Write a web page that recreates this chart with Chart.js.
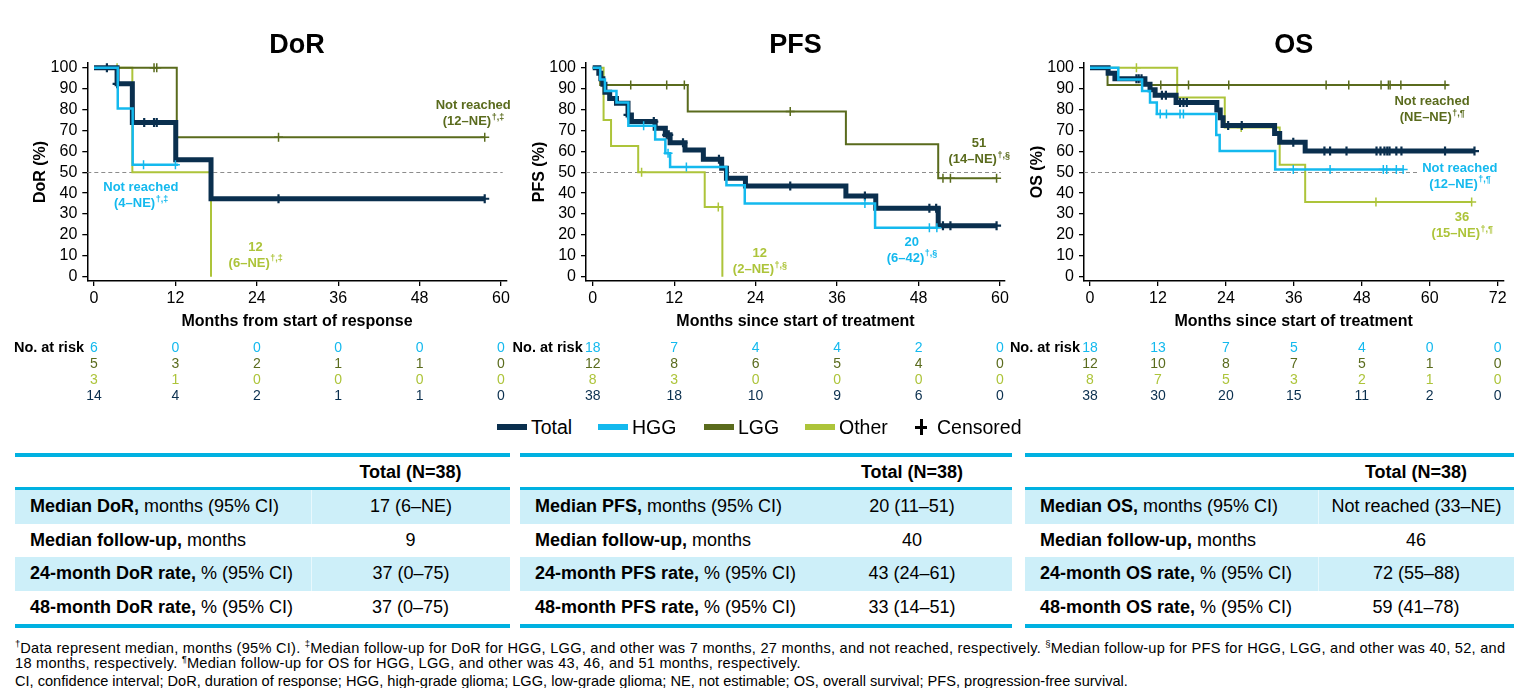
<!DOCTYPE html>
<html><head><meta charset="utf-8">
<script src="https://cdn.jsdelivr.net/npm/chart.js@4.4.1/dist/chart.umd.min.js"></script>
<style>
html,body{margin:0;padding:0;background:#fff}
body{width:1523px;height:688px;position:relative;overflow:hidden;font-family:"Liberation Sans",Arial,sans-serif;color:#000}
canvas{position:absolute;top:0}
.lg{position:absolute;top:416px;height:22px;display:flex;align-items:center;font-size:19.5px;white-space:nowrap}
.lg .sw{width:30px;height:6px;margin-right:4px}
.plus{position:relative;width:16px;height:16px;margin-right:8px}
.plus:before{content:"";position:absolute;left:6.5px;top:0;width:3px;height:16px;background:#000}
.plus:after{content:"";position:absolute;left:2px;top:6.5px;width:12px;height:3px;background:#000}
.tbl{position:absolute;top:453px;border-top:4px solid #00b1e1;border-bottom:4px solid #00b1e1;font-size:18px}
.tbl .r{display:grid;height:33.6px;align-items:stretch}
.tbl .h{height:30px;border-bottom:3px solid #00b1e1;font-weight:bold}
.tbl .s{background:#cdeff9}
.tbl .l{padding-left:15px;white-space:nowrap;display:flex;align-items:center}
.tbl .v{display:flex;align-items:center;justify-content:center;white-space:nowrap}
.tbl .s .v{border-left:1px solid #e8f8fd}
.fn{position:absolute;left:15px;font-size:14.6px;white-space:nowrap;line-height:16px}
.fn.w{letter-spacing:0.26px}
.fn sup{font-size:9.5px;vertical-align:top;line-height:9px;position:relative;top:-1px;letter-spacing:0}
</style></head><body>
<canvas id="cDoR" width="520" height="410" style="left:0px"></canvas>
<canvas id="cPFS" width="510" height="410" style="left:510px"></canvas>
<canvas id="cOS" width="515" height="410" style="left:1008px"></canvas>

<div class="lg" style="left:497px"><div class="sw" style="background:#0a2f4e"></div>Total</div>
<div class="lg" style="left:598px"><div class="sw" style="background:#14b9ee"></div>HGG</div>
<div class="lg" style="left:704px"><div class="sw" style="background:#5a6b1d"></div>LGG</div>
<div class="lg" style="left:805px"><div class="sw" style="background:#adc43a"></div>Other</div>
<div class="lg" style="left:913px"><div class="plus"></div>Censored</div>

<div class="tbl" style="left:15px;width:495px">
 <div class="r h" style="grid-template-columns:296px 199px"><div></div><div class="v">Total (N=38)</div></div>
 <div class="r s" style="grid-template-columns:296px 199px"><div class="l"><b>Median DoR,</b>&nbsp;months (95% CI)</div><div class="v">17 (6–NE)</div></div>
 <div class="r" style="grid-template-columns:296px 199px"><div class="l"><b>Median follow-up,</b>&nbsp;months</div><div class="v">9</div></div>
 <div class="r s" style="grid-template-columns:296px 199px"><div class="l"><b>24-month DoR rate,</b>&nbsp;% (95% CI)</div><div class="v">37 (0–75)</div></div>
 <div class="r" style="grid-template-columns:296px 199px"><div class="l"><b>48-month DoR rate,</b>&nbsp;% (95% CI)</div><div class="v">37 (0–75)</div></div>
</div>
<div class="tbl" style="left:520px;width:492px">
 <div class="r h" style="grid-template-columns:292px 200px"><div></div><div class="v">Total (N=38)</div></div>
 <div class="r s" style="grid-template-columns:292px 200px"><div class="l"><b>Median PFS,</b>&nbsp;months (95% CI)</div><div class="v" style="border-left:none">20 (11–51)</div></div>
 <div class="r" style="grid-template-columns:292px 200px"><div class="l"><b>Median follow-up,</b>&nbsp;months</div><div class="v">40</div></div>
 <div class="r s" style="grid-template-columns:292px 200px"><div class="l"><b>24-month PFS rate,</b>&nbsp;% (95% CI)</div><div class="v" style="border-left:none">43 (24–61)</div></div>
 <div class="r" style="grid-template-columns:292px 200px"><div class="l"><b>48-month PFS rate,</b>&nbsp;% (95% CI)</div><div class="v">33 (14–51)</div></div>
</div>
<div class="tbl" style="left:1025px;width:489px">
 <div class="r h" style="grid-template-columns:293px 196px"><div></div><div class="v">Total (N=38)</div></div>
 <div class="r s" style="grid-template-columns:293px 196px"><div class="l"><b>Median OS,</b>&nbsp;months (95% CI)</div><div class="v">Not reached (33–NE)</div></div>
 <div class="r" style="grid-template-columns:293px 196px"><div class="l"><b>Median follow-up,</b>&nbsp;months</div><div class="v">46</div></div>
 <div class="r s" style="grid-template-columns:293px 196px"><div class="l"><b>24-month OS rate,</b>&nbsp;% (95% CI)</div><div class="v">72 (55–88)</div></div>
 <div class="r" style="grid-template-columns:293px 196px"><div class="l"><b>48-month OS rate,</b>&nbsp;% (95% CI)</div><div class="v">59 (41–78)</div></div>
</div>

<div class="fn w" style="top:640px"><sup>†</sup>Data represent median, months (95% CI). <sup>‡</sup>Median follow-up for DoR for HGG, LGG, and other was 7 months, 27 months, and not reached, respectively. <sup>§</sup>Median follow-up for PFS for HGG, LGG, and other was 40, 52, and</div>
<div class="fn w" style="top:655px">18 months, respectively. <sup>¶</sup>Median follow-up for OS for HGG, LGG, and other was 43, 46, and 51 months, respectively.</div>
<div class="fn" style="top:673px">CI, confidence interval; DoR, duration of response; HGG, high-grade glioma; LGG, low-grade glioma; NE, not estimable; OS, overall survival; PFS, progression-free survival.</div>

<script>
// ---------- colours ----------
const C_TOTAL = '#0a2f4e', C_HGG = '#14b9ee', C_LGG = '#5a6b1d', C_OTHER = '#adc43a';

// ---------- ticks ----------
const yTicks = [0, 10, 20, 30, 40, 50, 60, 70, 80, 90, 100];
const xTicks60 = [0, 12, 24, 36, 48, 60];
const xTicks72 = [0, 12, 24, 36, 48, 60, 72];

// ---------- DoR (months from start of response) ----------
const dorTotalT = [0, 3.4, 5.65, 12.05, 17.25, 57.6];
const dorTotalS = [100, 92.3, 73.8, 56.0, 37.3, 37.3];
const dorTotalCens = [1.9, 3.4, 7.4, 8.85, 9.25, 27.2, 57.6];
const dorHggT = [0, 3.5, 5.7, 12.4];
const dorHggS = [100, 80.5, 53.6, 53.6];
const dorHggCens = [7.3, 12.0];
const dorLggT = [0, 12.2, 57.6];
const dorLggS = [100, 66.7, 66.7];
const dorLggCens = [8.85, 9.25, 27.2, 57.6];
const dorOtherT = [0, 5.65, 17.25];
const dorOtherS = [100, 50, 0];
const dorOtherCens = [3.4];
const dorRiskHgg = [6, 0, 0, 0, 0, 0];
const dorRiskLgg = [5, 3, 2, 1, 1, 0];
const dorRiskOther = [3, 1, 0, 0, 0, 0];
const dorRiskTotal = [14, 4, 2, 1, 1, 0];

// ---------- PFS (months since start of treatment) ----------
const pfsTotalT = [0, 0.9, 1.2, 1.5, 1.8, 2.5, 3.5, 5.2, 5.7, 9.2, 10.7, 11.4, 13.6, 16.3, 19.0, 19.7, 22.5, 37.3, 41.7, 50.9, 59.5];
const pfsTotalS = [100, 97.4, 94.7, 92.1, 88.2, 85.3, 83.0, 77.4, 74.2, 71.0, 67.9, 64.1, 60.6, 56.2, 51.9, 47.1, 43.4, 38.6, 32.7, 24.4, 24.4];
const pfsTotalCens = [5.2, 9.0, 10.9, 11.2, 13.3, 18.6, 29.1, 40.1, 49.6, 50.6, 51.6, 52.7, 59.5];
const pfsHggT = [0, 1.1, 1.8, 3.5, 5.25, 9.2, 10.7, 11.4, 19.7, 22.4, 41.6, 50.9];
const pfsHggS = [100, 94.4, 88.9, 83.3, 72.2, 65.7, 59.1, 52.5, 43.8, 35.0, 23.4, 23.4];
const pfsHggCens = [7.5, 11.1, 13.8, 40.1, 49.6, 50.7];
const pfsLggT = [0, 1.1, 14.0, 37.3, 50.9, 59.5];
const pfsLggS = [100, 91.7, 79.0, 63.4, 47.1, 47.1];
const pfsLggCens = [5.6, 10.9, 13.5, 29.1, 51.6, 52.7, 59.5];
const pfsOtherT = [0, 1.6, 2.7, 6.7, 16.5, 19.1];
const pfsOtherS = [100, 75.0, 62.5, 50.0, 33.3, 0];
const pfsOtherCens = [7.2, 18.5];
const pfsRiskHgg = [18, 7, 4, 4, 2, 0];
const pfsRiskLgg = [12, 8, 6, 5, 4, 0];
const pfsRiskOther = [8, 3, 0, 0, 0, 0];
const pfsRiskTotal = [38, 18, 10, 9, 6, 0];

// ---------- OS (months since start of treatment) ----------
const osTotalT = [0, 3.2, 4.4, 9.7, 10.6, 11.5, 15.2, 22.4, 23.0, 23.5, 32.6, 33.5, 38.0, 67.9];
const osTotalS = [100, 97.4, 94.7, 92.1, 89.5, 86.8, 83.4, 79.8, 76.0, 72.4, 68.5, 64.3, 60.1, 60.1];
const osTotalCens = [8.2, 8.6, 9.1, 12.7, 13.4, 15.9, 16.5, 17.1, 24.4, 26.8, 35.9, 41.4, 42.4, 45.3, 50.6, 51.3, 52.0, 52.5, 52.9, 54.1, 55.0, 62.7, 67.9];
const osHggT = [0, 5.0, 9.2, 10.6, 11.8, 22.3, 22.9, 32.7, 55.3];
const osHggS = [100, 94.4, 88.9, 83.3, 77.8, 67.8, 60.2, 51.3, 51.3];
const osHggCens = [12.4, 13.5, 15.9, 16.5, 35.9, 42.4, 51.8, 52.4, 54.1, 55.3];
const osLggT = [0, 3.1, 63.3];
const osLggS = [100, 91.7, 91.7];
const osLggCens = [12.5, 17.4, 24.5, 41.7, 45.7, 51.4, 52.7, 53.0, 54.9, 62.7];
const osOtherT = [0, 15.4, 23.8, 33.5, 38.0, 67.4];
const osOtherS = [100, 85.7, 71.4, 53.6, 35.7, 35.7];
const osOtherCens = [8.2, 26.7, 50.5, 67.4];
const osRiskHgg = [18, 13, 7, 5, 4, 0, 0];
const osRiskLgg = [12, 10, 8, 7, 5, 1, 0];
const osRiskOther = [8, 7, 5, 3, 2, 1, 0];
const osRiskTotal = [38, 30, 20, 15, 11, 2, 0];

// ---------- helpers ----------
const FONT = "'Liberation Sans', Arial, sans-serif";
Chart.defaults.font.family = FONT;
Chart.defaults.color = '#000';

function stepAt(T, S, t) {
  let v = S[0];
  for (let i = 0; i < T.length; i++) if (T[i] <= t) v = S[i];
  return v;
}

function kmSets(T, S, cens, color, width, crossW, order) {
  return [
    { data: T.map((t, i) => ({ x: t, y: S[i] })), borderColor: color, borderWidth: width,
      stepped: 'before', pointRadius: 0, fill: false, order: order,
      borderJoinStyle: 'miter', borderCapStyle: 'butt' },
    { data: cens.map(t => ({ x: t, y: stepAt(T, S, t) })), showLine: false, order: order,
      pointStyle: 'cross', pointRadius: 4.5, pointBorderColor: color, pointBackgroundColor: color,
      pointBorderWidth: crossW, borderColor: color }
  ];
}

function kmPlugin(p) {
  return {
    id: 'km' + p.name,
    beforeDatasetsDraw(chart) {
      const { ctx, chartArea: a, scales: { y } } = chart;
      const yy = Math.round(y.getPixelForValue(50)) + 0.5;
      ctx.save();
      ctx.strokeStyle = '#8c8c8c'; ctx.lineWidth = 1; ctx.setLineDash([4, 3]);
      ctx.beginPath(); ctx.moveTo(a.left, yy); ctx.lineTo(a.right - 4, yy); ctx.stroke();
      ctx.restore();
    },
    afterDraw(chart) {
      const { ctx, chartArea: a, scales: { x, y } } = chart;
      ctx.save();
      // panel title
      ctx.fillStyle = '#000'; ctx.font = 'bold 27px ' + FONT;
      ctx.textAlign = 'center'; ctx.textBaseline = 'middle';
      ctx.fillText(p.name, (a.left + a.right) / 2, 46);
      // number at risk
      const x0 = x.getPixelForValue(p.xTicks[0]);
      ctx.font = 'bold 14.5px ' + FONT; ctx.textAlign = 'right';
      ctx.fillText('No. at risk', x0 - 10, a.bottom + 67);
      ctx.font = '14px ' + FONT; ctx.textAlign = 'center';
      p.risk.forEach((r, i) => {
        ctx.fillStyle = r.color;
        r.vals.forEach((v, j) => ctx.fillText(String(v), x.getPixelForValue(p.xTicks[j]), a.bottom + 67 + 16 * i));
      });
      // median annotations
      p.notes.forEach(n => {
        const cx = x.getPixelForValue(n.x), cy = y.getPixelForValue(n.y);
        ctx.font = 'bold 13px ' + FONT;
        const w1 = ctx.measureText(n.l1).width, w2 = ctx.measureText(n.l2).width;
        ctx.font = 'bold 9px ' + FONT;
        const ws = ctx.measureText(n.sup).width;
        if (n.bg) { ctx.fillStyle = '#fff'; ctx.fillRect(cx - Math.max(w1, w2 + ws) / 2 - 3, cy - 16, Math.max(w1, w2 + ws) + 6, 32); }
        ctx.fillStyle = n.c; ctx.textBaseline = 'middle';
        ctx.font = 'bold 13px ' + FONT; ctx.textAlign = 'center';
        ctx.fillText(n.l1, cx, cy - 8);
        const sx = cx - (w2 + ws) / 2;
        ctx.textAlign = 'left';
        ctx.fillText(n.l2, sx, cy + 8);
        ctx.font = 'bold 9px ' + FONT;
        ctx.fillText(n.sup, sx + w2 + 0.5, cy + 4);
      });
      ctx.restore();
    }
  };
}

function buildChart(id, p) {
  const ds = [].concat(
    kmSets(p.other.T, p.other.S, p.other.C, C_OTHER, 2, 1.5, 4),
    kmSets(p.lgg.T, p.lgg.S, p.lgg.C, C_LGG, 2, 1.5, 3),
    kmSets(p.total.T, p.total.S, p.total.C, C_TOTAL, 5, 2.2, 2),
    kmSets(p.hgg.T, p.hgg.S, p.hgg.C, C_HGG, 2.5, 1.5, 1)
  );
  const grid = { display: true, drawOnChartArea: false, drawTicks: true, tickLength: 5, color: '#000', lineWidth: 1.3 };
  const border = { display: true, color: '#000', width: 1.5 };
  new Chart(document.getElementById(id), {
    type: 'line',
    data: { datasets: ds },
    options: {
      responsive: false, animation: false, events: [],
      layout: { padding: { left: 0, top: 63, right: p.padRight, bottom: 79 } },
      plugins: { legend: { display: false }, tooltip: { enabled: false } },
      scales: {
        x: {
          type: 'linear', min: p.xMin, max: p.xMax,
          afterBuildTicks: s => { s.ticks = p.xTicks.map(v => ({ value: v })); },
          afterFit: s => { s.height = 50; },
          ticks: { font: { size: 16 }, padding: 3, maxRotation: 0, autoSkip: false, color: '#000' },
          grid: grid, border: border,
          title: { display: true, text: p.xTitle, font: { size: 16, weight: 'bold' }, padding: { top: 0, bottom: 0 }, color: '#000' }
        },
        y: {
          type: 'linear', min: -2.06, max: 102.25,
          afterBuildTicks: s => { s.ticks = yTicks.map(v => ({ value: v })); },
          afterFit: s => { s.width = p.yWidth; },
          ticks: { font: { size: 16 }, padding: 5, color: '#000', autoSkip: false },
          grid: grid, border: border,
          title: { display: true, text: p.yTitle, font: { size: 16, weight: 'bold' }, padding: { top: p.yTitlePad, bottom: 0 }, color: '#000' }
        }
      }
    },
    plugins: [kmPlugin(p)]
  });
}

buildChart('cDoR', {
  name: 'DoR', xTicks: xTicks60, xMin: -0.99, xMax: 60.84, padRight: 13.3, yWidth: 87.3, yTitlePad: 31.4,
  xTitle: 'Months from start of response', yTitle: 'DoR (%)',
  total: { T: dorTotalT, S: dorTotalS, C: dorTotalCens }, hgg: { T: dorHggT, S: dorHggS, C: dorHggCens },
  lgg: { T: dorLggT, S: dorLggS, C: dorLggCens }, other: { T: dorOtherT, S: dorOtherS, C: dorOtherCens },
  risk: [{ vals: dorRiskHgg, color: C_HGG }, { vals: dorRiskLgg, color: C_LGG }, { vals: dorRiskOther, color: C_OTHER }, { vals: dorRiskTotal, color: C_TOTAL }],
  notes: [
    { x: 55.9, y: 78.1, l1: 'Not reached', l2: '(12–NE)', sup: '†,‡', c: C_LGG },
    { x: 6.9, y: 38.9, l1: 'Not reached', l2: '(4–NE)', sup: '†,‡', c: C_HGG },
    { x: 23.8, y: 10.4, l1: '12', l2: '(6–NE)', sup: '†,‡', c: C_OTHER }
  ]
});
buildChart('cPFS', {
  name: 'PFS', xTicks: xTicks60, xMin: -0.99, xMax: 60.74, padRight: 15, yWidth: 76, yTitlePad: 20.4,
  xTitle: 'Months since start of treatment', yTitle: 'PFS (%)',
  total: { T: pfsTotalT, S: pfsTotalS, C: pfsTotalCens }, hgg: { T: pfsHggT, S: pfsHggS, C: pfsHggCens },
  lgg: { T: pfsLggT, S: pfsLggS, C: pfsLggCens }, other: { T: pfsOtherT, S: pfsOtherS, C: pfsOtherCens },
  risk: [{ vals: pfsRiskHgg, color: C_HGG }, { vals: pfsRiskLgg, color: C_LGG }, { vals: pfsRiskOther, color: C_OTHER }, { vals: pfsRiskTotal, color: C_TOTAL }],
  notes: [
    { x: 56.9, y: 59.9, l1: '51', l2: '(14–NE)', sup: '†,§', c: C_LGG },
    { x: 24.6, y: 7.5, l1: '12', l2: '(2–NE)', sup: '†,§', c: C_OTHER },
    { x: 47.0, y: 12.8, l1: '20', l2: '(6–42)', sup: '†,§', c: C_HGG }
  ]
});
buildChart('cOS', {
  name: 'OS', xTicks: xTicks72, xMin: -1.06, xMax: 72.99, padRight: 19.7, yWidth: 76, yTitlePad: 20.4,
  xTitle: 'Months since start of treatment', yTitle: 'OS (%)',
  total: { T: osTotalT, S: osTotalS, C: osTotalCens }, hgg: { T: osHggT, S: osHggS, C: osHggCens },
  lgg: { T: osLggT, S: osLggS, C: osLggCens }, other: { T: osOtherT, S: osOtherS, C: osOtherCens },
  risk: [{ vals: osRiskHgg, color: C_HGG }, { vals: osRiskLgg, color: C_LGG }, { vals: osRiskOther, color: C_OTHER }, { vals: osRiskTotal, color: C_TOTAL }],
  notes: [
    { x: 60.4, y: 80.2, l1: 'Not reached', l2: '(NE–NE)', sup: '†,¶', c: C_LGG },
    { x: 65.3, y: 48.2, l1: 'Not reached', l2: '(12–NE)', sup: '†,¶', c: C_HGG, bg: true },
    { x: 65.7, y: 24.5, l1: '36', l2: '(15–NE)', sup: '†,¶', c: C_OTHER }
  ]
});
</script>
</body></html>
